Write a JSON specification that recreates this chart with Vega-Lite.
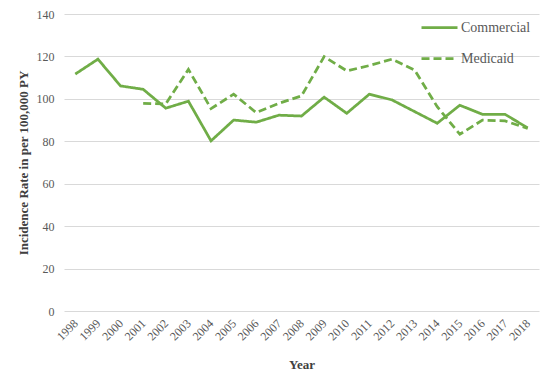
{
  "$schema": "https://vega.github.io/schema/vega-lite/v6.json",
  "autosize": "none",
  "width": 475,
  "height": 297,
  "padding": {"left": 64, "top": 14, "right": 15, "bottom": 75},
  "background": "white",
  "config": {
    "view": {"stroke": null},
    "font": "Liberation Serif"
  },
  "data": {
    "values": [
      {"year": "1998", "series": "Commercial", "rate": 111.7},
      {"year": "1999", "series": "Commercial", "rate": 118.7},
      {"year": "2000", "series": "Commercial", "rate": 106.1},
      {"year": "2001", "series": "Commercial", "rate": 104.5},
      {"year": "2002", "series": "Commercial", "rate": 95.6},
      {"year": "2003", "series": "Commercial", "rate": 98.9},
      {"year": "2004", "series": "Commercial", "rate": 80.2},
      {"year": "2005", "series": "Commercial", "rate": 90.0},
      {"year": "2006", "series": "Commercial", "rate": 89.0},
      {"year": "2007", "series": "Commercial", "rate": 92.3},
      {"year": "2008", "series": "Commercial", "rate": 91.9},
      {"year": "2009", "series": "Commercial", "rate": 100.8},
      {"year": "2010", "series": "Commercial", "rate": 93.2},
      {"year": "2011", "series": "Commercial", "rate": 102.2},
      {"year": "2012", "series": "Commercial", "rate": 99.5},
      {"year": "2013", "series": "Commercial", "rate": 94.0},
      {"year": "2014", "series": "Commercial", "rate": 88.5},
      {"year": "2015", "series": "Commercial", "rate": 97.0},
      {"year": "2016", "series": "Commercial", "rate": 92.7},
      {"year": "2017", "series": "Commercial", "rate": 92.7},
      {"year": "2018", "series": "Commercial", "rate": 86.3},
      {"year": "2001", "series": "Medicaid", "rate": 97.9},
      {"year": "2002", "series": "Medicaid", "rate": 97.6},
      {"year": "2003", "series": "Medicaid", "rate": 113.9},
      {"year": "2004", "series": "Medicaid", "rate": 95.4},
      {"year": "2005", "series": "Medicaid", "rate": 102.2},
      {"year": "2006", "series": "Medicaid", "rate": 93.5},
      {"year": "2007", "series": "Medicaid", "rate": 97.9},
      {"year": "2008", "series": "Medicaid", "rate": 101.4},
      {"year": "2009", "series": "Medicaid", "rate": 119.9},
      {"year": "2010", "series": "Medicaid", "rate": 113.2},
      {"year": "2011", "series": "Medicaid", "rate": 115.7},
      {"year": "2012", "series": "Medicaid", "rate": 118.7},
      {"year": "2013", "series": "Medicaid", "rate": 113.6},
      {"year": "2014", "series": "Medicaid", "rate": 96.3},
      {"year": "2015", "series": "Medicaid", "rate": 83.3},
      {"year": "2016", "series": "Medicaid", "rate": 90.0},
      {"year": "2017", "series": "Medicaid", "rate": 89.6},
      {"year": "2018", "series": "Medicaid", "rate": 86.1}
    ]
  },
  "mark": {"type": "line", "strokeWidth": 2.75, "color": "#70AD47"},
  "encoding": {
    "x": {
      "field": "year",
      "type": "ordinal",
      "scale": {"type": "point", "padding": 0.5},
      "axis": {
        "title": "Year",
        "titleFont": "Liberation Serif",
        "titleFontSize": 13,
        "titleFontWeight": "bold",
        "titleColor": "#404040",
        "titlePadding": 16,
        "labelAngle": -45,
        "labelAlign": "right",
        "labelBaseline": "middle",
        "labelFont": "Liberation Serif",
        "labelFontSize": 12,
        "labelColor": "#595959",
        "labelPadding": 10,
        "ticks": false,
        "domain": false,
        "grid": false
      }
    },
    "y": {
      "field": "rate",
      "type": "quantitative",
      "scale": {"domain": [0, 140]},
      "axis": {
        "title": "Incidence Rate in per 100,000 PY",
        "titleFont": "Liberation Serif",
        "titleFontSize": 13,
        "titleFontWeight": "bold",
        "titleColor": "#404040",
        "titlePadding": 6,
        "values": [0, 20, 40, 60, 80, 100, 120, 140],
        "labelFont": "Liberation Serif",
        "labelFontSize": 12,
        "labelColor": "#595959",
        "labelPadding": 10,
        "ticks": false,
        "domain": false,
        "grid": true,
        "gridColor": "#d9d9d9",
        "gridWidth": 1
      }
    },
    "strokeDash": {
      "field": "series",
      "type": "nominal",
      "scale": {"domain": ["Commercial", "Medicaid"], "range": [[1, 0], [8, 4]]},
      "legend": {
        "title": null,
        "orient": "none",
        "legendX": 356,
        "legendY": -6,
        "symbolType": "stroke",
        "symbolStrokeColor": "#70AD47",
        "symbolStrokeWidth": 2.75,
        "symbolSize": 1296,
        "rowPadding": 4,
        "labelFont": "Liberation Serif",
        "labelFontSize": 14,
        "labelColor": "#595959",
        "labelOffset": 2
      }
    }
  }
}
